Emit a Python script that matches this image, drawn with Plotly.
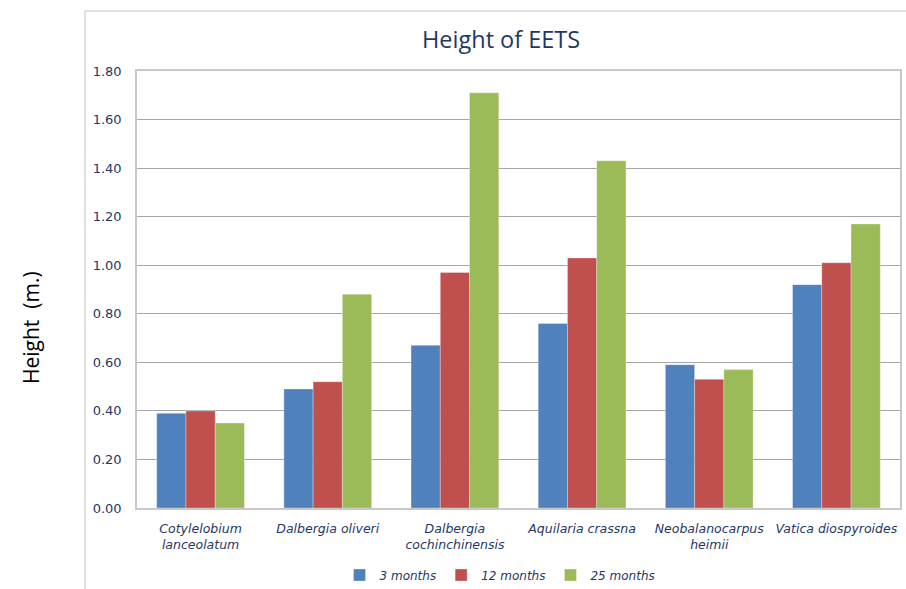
import plotly.graph_objects as go

# Tree species and mean heights (m) at each survey age
species = [
    "Cotylelobium<br>lanceolatum",
    "Dalbergia oliveri",
    "Dalbergia<br>cochinchinensis",
    "Aquilaria crassna",
    "Neobalanocarpus<br>heimii",
    "Vatica diospyroides",
]
height_3m = [0.39, 0.49, 0.67, 0.76, 0.59, 0.92]
height_12m = [0.40, 0.52, 0.97, 1.03, 0.53, 1.01]
height_25m = [0.35, 0.88, 1.71, 1.43, 0.57, 1.17]
series_names = ["3 months", "12 months", "25 months"]
y_ticks = [0.0, 0.2, 0.4, 0.6, 0.8, 1.0, 1.2, 1.4, 1.6, 1.8]

colors = ["#4F81BD", "#C0504D", "#9BBB59"]
navy = "#1F3864"

W, H = 906, 589
L, R, T, B = 137, 6, 71, 81
plot_w = W - L - R
plot_h = H - T - B

fig = go.Figure()
for name, vals, col in zip(series_names, [height_3m, height_12m, height_25m], colors):
    fig.add_trace(go.Bar(
        x=species, y=vals, name=name,
        marker=dict(color=col, line=dict(color="rgba(255,255,255,0.5)", width=0.6)),
    ))

def px_x(p):
    return (p - L) / plot_w

def px_y(p):
    return (H - B - p) / plot_h

fig.update_layout(
    width=W, height=H,
    margin=dict(l=L, r=R, t=T, b=B, autoexpand=False),
    paper_bgcolor="white", plot_bgcolor="white",
    barmode="group", bargap=0.31, bargroupgap=0,
    showlegend=True,
    legend=dict(
        orientation="h", xanchor="center", yanchor="middle",
        x=px_x(500), y=px_y(575),
        font=dict(family="DejaVu Sans", size=12, color=navy, style="italic"),
        itemwidth=30, traceorder="normal",
    ),
    xaxis=dict(
        showline=True, linecolor="#C8C8C8", linewidth=1.5, mirror=True,
        showgrid=False, ticks="", automargin=False,
        tickfont=dict(family="DejaVu Sans", size=12.5, color=navy, style="italic"),
        ticklabelstandoff=8,
    ),
    yaxis=dict(
        range=[0, 1.8], tickvals=y_ticks, tickformat=".2f", automargin=False,
        showline=True, linecolor="#C8C8C8", linewidth=1.5, mirror=True,
        showgrid=True, gridcolor="#A6A6A6", gridwidth=1, zeroline=False,
        tickfont=dict(family="DejaVu Sans", size=13, color=navy),
        ticklabelstandoff=11,
    ),
    shapes=[dict(
        type="rect", xref="paper", yref="paper",
        x0=px_x(85), x1=px_x(912), y0=px_y(600), y1=px_y(11),
        line=dict(color="#D9D9D9", width=1.5), layer="below",
    )],
    annotations=[
        dict(text="Height of EETS", xref="paper", yref="paper",
             x=px_x(501), y=px_y(39), xanchor="center", yanchor="middle",
             showarrow=False, font=dict(family="Open Sans", size=23.5, color=navy)),
        dict(text="Height  (m.)", xref="paper", yref="paper",
             x=px_x(31), y=px_y(328), xanchor="center", yanchor="middle",
             textangle=-90, showarrow=False,
             font=dict(family="Open Sans", size=21, color="black")),
    ],
)

fig.write_html("out.html")
